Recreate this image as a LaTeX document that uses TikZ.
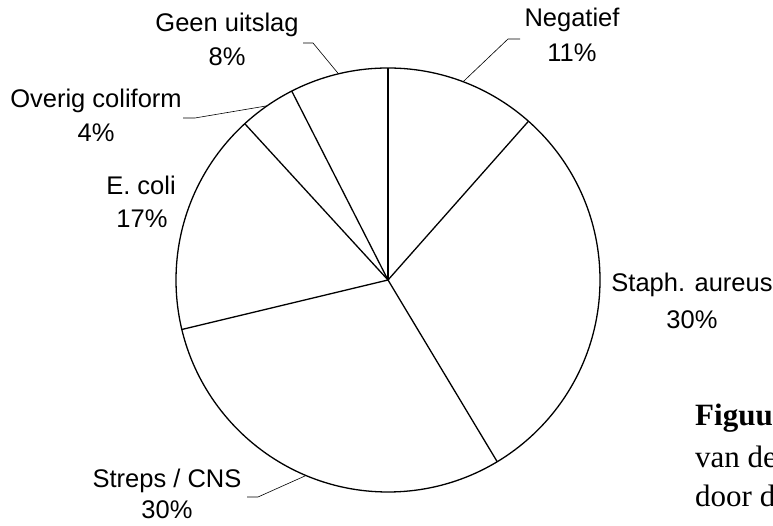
\documentclass[tikz,border=0pt]{standalone}
\usepackage{fontspec}
\setmainfont{Liberation Sans}
\newfontfamily\capfont{Liberation Serif}
\usetikzlibrary{calc}
\begin{document}
\begin{tikzpicture}[x=1pt,y=1pt,
  lbl/.style={font=\fontsize{25.5}{30}\selectfont, inner sep=0pt, anchor=base},
  capt/.style={font=\capfont\fontsize{31}{36}\selectfont, inner sep=0pt, anchor=base west},
  slice/.style={line width=1.3pt},
  leader/.style={line width=0.6pt}]
\useasboundingbox (0,0) rectangle (773,526);
\clip (0,0) rectangle (773,526);
\coordinate (c) at (388,246);
\draw[slice] (c) circle (212);
\foreach \a in {90,48.5,-59,-166.5,132.5,117} \draw[slice] (c) -- ++(\a:212);
% points on the rim for leaders
\path (c) ++(103.5:212) coordinate (pg);
\path (c) ++(124.75:212) coordinate (pov);
\path (c) ++(69.25:212) coordinate (pn);
\path (c) ++(-112.75:212) coordinate (ps);
% labels
\node[lbl] (geen) at (227,494) {Geen uitslag};
\node[lbl] (geenp) at (227,460) {8\%};
\node[lbl] (neg) at (572,499) {Negatief};
\node[lbl] (negp) at (572,464) {11\%};
\node[lbl] (ov) at (96,418) {Overig coliform};
\node[lbl] (ovp) at (96,384) {4\%};
\node[lbl] (ec) at (141,331) {E. coli};
\node[lbl] (ecp) at (142,298) {17\%};
\node[lbl] (st) at (692,234) {Staph. aureus};
\node[lbl] (stp) at (692,197) {30\%};
\node[lbl] (sc) at (167,38) {Streps / CNS};
\node[lbl] (scp) at (167,7) {30\%};
% leaders
\coordinate (lg) at (303,483);
\coordinate (lov) at (183,408);
\coordinate (ln) at (520,487);
\coordinate (ls) at (247,29);
\draw[leader] (lg) -- ++(10,0) -- (pg);
\draw[leader] (lov) -- ++(12,0) -- (pov);
\draw[leader] (ln) -- ++(-12,0) -- (pn);
\draw[leader] (ls) -- ++(11,0) -- (ps);
% caption (clipped at the right edge)
\node[capt, font=\capfont\bfseries\fontsize{31}{36}\selectfont] (fig) at (695,100) {Figuur};
\node[capt] (vande) at (695,58) {van de};
\node[capt] (door) at (695,19) {door d};
\end{tikzpicture}
\end{document}
